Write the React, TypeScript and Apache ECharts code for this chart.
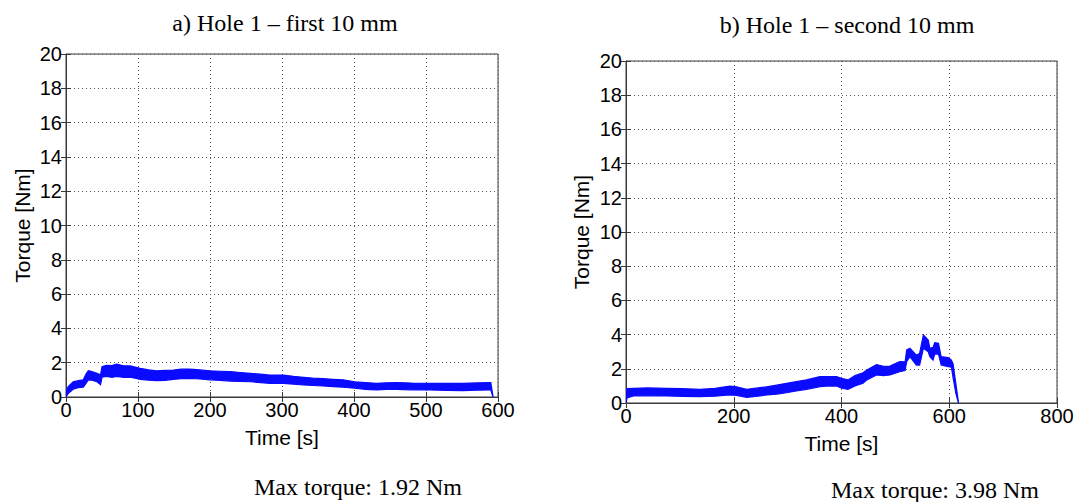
import React, { useEffect, useRef } from "react";
import * as echarts from "echarts";

// Hole 1, first 10 mm: torque band (lower / upper envelope) over time
const holeATime = [
  0, 3, 10, 17, 24, 28, 31, 36, 43, 48, 50, 56, 64, 70, 80, 89, 96, 103, 115,
  126, 138, 149, 160, 172, 186, 200, 214, 228, 242, 256, 270, 283, 302, 316,
  330, 343, 357, 371, 385, 401, 416, 431, 445, 459, 480, 506, 530, 551, 570,
  589, 590, 593,
];
const holeALower = [
  0.0, 0.2, 0.45, 0.55, 0.57, 0.8, 1.0, 0.98, 0.89, 0.72, 1.15, 1.2, 1.15, 1.2,
  1.15, 1.15, 1.1, 1.03, 0.98, 0.95, 0.97, 1.03, 1.07, 1.09, 1.05, 1.0, 0.97,
  0.93, 0.91, 0.89, 0.84, 0.8, 0.8, 0.75, 0.7, 0.67, 0.64, 0.6, 0.57, 0.51,
  0.45, 0.41, 0.44, 0.45, 0.42, 0.41, 0.38, 0.37, 0.4, 0.41, 0.41, 0.0,
];
const holeAUpper = [
  0.3, 0.6, 0.89, 0.95, 1.0, 1.35, 1.53, 1.48, 1.38, 1.3, 1.77, 1.85, 1.83,
  1.92, 1.82, 1.81, 1.75, 1.67, 1.58, 1.53, 1.55, 1.57, 1.62, 1.63, 1.58, 1.53,
  1.5, 1.48, 1.43, 1.38, 1.33, 1.28, 1.28, 1.2, 1.15, 1.1, 1.07, 1.03, 1.0,
  0.89, 0.84, 0.8, 0.83, 0.84, 0.81, 0.8, 0.79, 0.8, 0.82, 0.84, 0.84, 0.05,
];

// Hole 1, second 10 mm
const holeBTime = [
  0, 2, 14, 40, 75, 105, 137, 165, 193, 205, 224, 245, 261, 280, 298, 316, 335,
  360, 372, 391, 400, 412, 425, 440, 447, 465, 478, 490, 508, 518, 521, 527,
  539, 545, 552, 561, 564, 570, 573, 580, 585, 598, 604, 607, 612, 617,
];
const holeBLower = [
  0.0, 0.3, 0.41, 0.42, 0.41, 0.39, 0.37, 0.4, 0.47, 0.45, 0.33, 0.4, 0.47,
  0.52, 0.6, 0.7, 0.8, 0.95, 0.99, 0.99, 0.86, 0.8, 1.0, 1.15, 1.35, 1.64, 1.6,
  1.64, 1.83, 1.9, 2.42, 2.71, 2.22, 2.22, 3.2, 3.0, 2.71, 2.51, 2.86, 2.86,
  2.22, 2.12, 2.09, 1.5, 0.6, 0.0,
];
const holeBUpper = [
  0.3, 0.85, 0.86, 0.88, 0.86, 0.84, 0.8, 0.85, 0.99, 0.95, 0.8, 0.88, 0.95,
  1.05, 1.15, 1.25, 1.35, 1.54, 1.54, 1.54, 1.44, 1.35, 1.6, 1.77, 1.93, 2.25,
  2.15, 2.16, 2.42, 2.4, 3.1, 3.2, 2.8, 2.9, 3.98, 3.68, 3.2, 3.25, 3.53, 3.49,
  2.71, 2.65, 2.51, 2.3, 1.2, 0.05,
];

const yTicks = { min: 0, max: 20, interval: 2 };
const xTicksA = { min: 0, max: 600, interval: 100 };
const xTicksB = { min: 0, max: 800, interval: 200 };

const maxTorqueA = 1.92;
const maxTorqueB = 3.98;

const BLUE = "#0a0aff";
const FRAME = "#3a3a3a";
const SANS = "Liberation Sans, Arial, sans-serif";
const SERIF = "Liberation Serif, Times New Roman, serif";
const TICK_FONT = 20;
const NAME_FONT = 21;

// Noisy torque trace drawn as a filled band between its lower and upper envelope
function bandSeries(
  time: number[],
  lower: number[],
  upper: number[],
  gridIdx: number
) {
  const data = time.map((t, i) => [t, lower[i], upper[i]]);
  return {
    type: "custom",
    xAxisIndex: gridIdx * 2,
    yAxisIndex: gridIdx * 2,
    data,
    encode: { x: 0, y: [1, 2] },
    silent: true,
    clip: true,
    renderItem: (params: any, api: any) => {
      if (params.dataIndex !== 0) return null;
      const top = data.map((d) => api.coord([d[0], d[2]]));
      const bottom = data.map((d) => api.coord([d[0], d[1]])).reverse();
      return {
        type: "polygon",
        shape: { points: [...top, ...bottom] },
        style: { fill: BLUE, stroke: BLUE, lineWidth: 1.2 },
      };
    },
  };
}

function mainX(gridIndex: number, ticks: any) {
  return {
    type: "value",
    gridIndex,
    ...ticks,
    name: "Time [s]",
    nameLocation: "middle",
    nameGap: 30,
    nameTextStyle: { fontFamily: SANS, fontSize: NAME_FONT, color: "#000" },
    axisLine: { show: true, onZero: false, lineStyle: { color: FRAME } },
    axisTick: { show: true, inside: true, length: 5, lineStyle: { color: FRAME } },
    axisLabel: { fontFamily: SANS, fontSize: TICK_FONT, color: "#000", margin: 3 },
    splitLine: {
      show: true,
      lineStyle: { color: "#555", type: [1, 3], width: 1 },
    },
  };
}

function mirrorX(gridIndex: number, ticks: any) {
  return {
    type: "value",
    gridIndex,
    position: "top",
    ...ticks,
    axisLine: { show: false },
    axisTick: { show: true, inside: true, length: 5, lineStyle: { color: FRAME } },
    axisLabel: { show: false },
    splitLine: { show: false },
  };
}

function mainY(gridIndex: number, gap: number) {
  return {
    type: "value",
    gridIndex,
    ...yTicks,
    name: "Torque [Nm]",
    nameLocation: "middle",
    nameGap: gap,
    nameTextStyle: { fontFamily: SANS, fontSize: NAME_FONT, color: "#000" },
    axisLine: { show: true, onZero: false, lineStyle: { color: FRAME } },
    axisTick: { show: true, inside: true, length: 5, lineStyle: { color: FRAME } },
    axisLabel: { fontFamily: SANS, fontSize: TICK_FONT, color: "#000", margin: 4 },
    splitLine: {
      show: true,
      lineStyle: { color: "#555", type: [1, 3], width: 1 },
    },
  };
}

function mirrorY(gridIndex: number) {
  return {
    type: "value",
    gridIndex,
    position: "right",
    ...yTicks,
    axisLine: { show: false },
    axisTick: { show: true, inside: true, length: 5, lineStyle: { color: FRAME } },
    axisLabel: { show: false },
    splitLine: { show: false },
  };
}

function caption(text: string, x: number, y: number) {
  return {
    type: "text",
    x,
    y,
    style: {
      text,
      fontFamily: SERIF,
      fontSize: 24,
      fill: "#000",
      align: "center",
      verticalAlign: "middle",
    },
  };
}

export default function App() {
  const ref = useRef<HTMLDivElement>(null);

  useEffect(() => {
    if (!ref.current) return;
    const chart = echarts.init(ref.current, undefined, { renderer: "svg" });
    chart.setOption({
      animation: false,
      backgroundColor: "#fff",
      grid: [
        {
          left: 66,
          top: 54,
          width: 432,
          height: 343,
          show: true,
          borderColor: FRAME,
          borderWidth: 1,
        },
        {
          left: 626,
          top: 61,
          width: 431,
          height: 342,
          show: true,
          borderColor: FRAME,
          borderWidth: 1,
        },
      ],
      xAxis: [
        mainX(0, xTicksA),
        mirrorX(0, xTicksA),
        mainX(1, xTicksB),
        mirrorX(1, xTicksB),
      ],
      yAxis: [mainY(0, 33), mirrorY(0), mainY(1, 34), mirrorY(1)],
      series: [
        bandSeries(holeATime, holeALower, holeAUpper, 0),
        bandSeries(holeBTime, holeBLower, holeBUpper, 1),
      ],
      graphic: [
        caption("a) Hole 1 \u2013 first 10 mm", 285, 23),
        caption("b) Hole 1 \u2013 second 10 mm", 847, 25),
        caption(`Max torque: ${maxTorqueA.toFixed(2)} Nm`, 358, 487),
        caption(`Max torque: ${maxTorqueB.toFixed(2)} Nm`, 935, 490),
      ],
    });
    return () => chart.dispose();
  }, []);

  return (
    <div
      ref={ref}
      style={{
        position: "fixed",
        left: 0,
        top: 0,
        width: 1078,
        height: 502,
        background: "#fff",
      }}
    />
  );
}
